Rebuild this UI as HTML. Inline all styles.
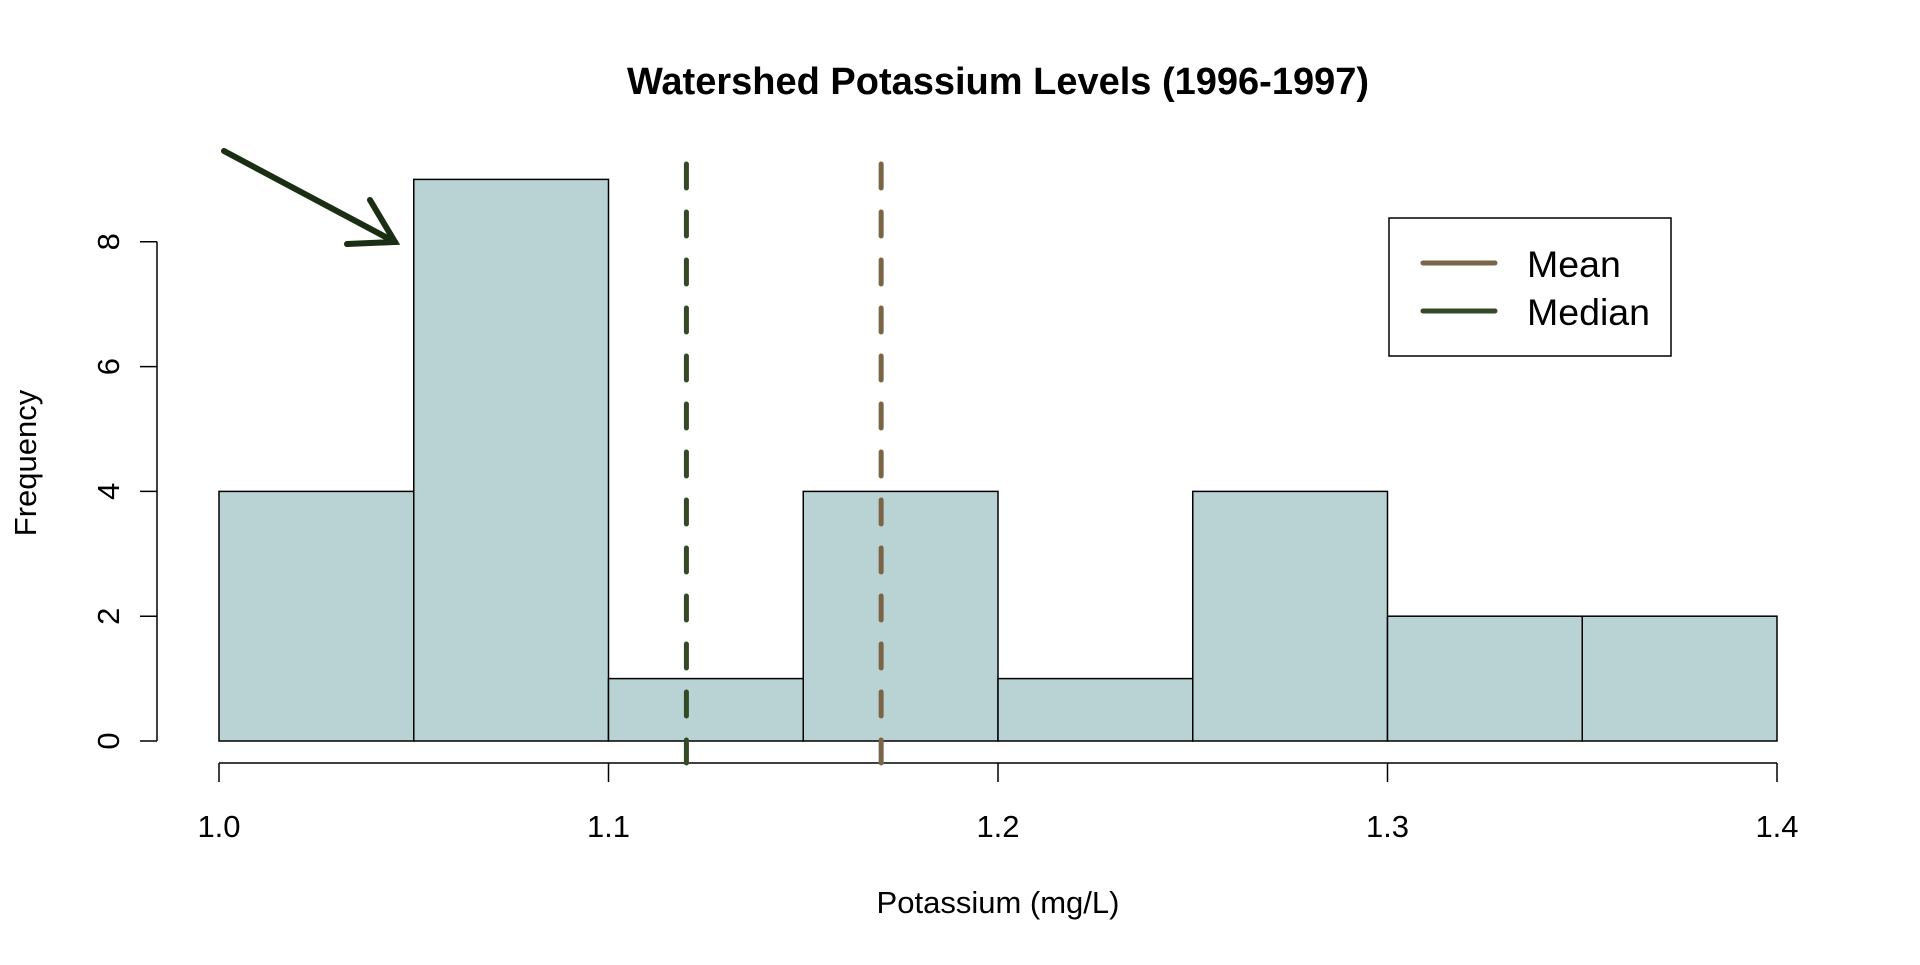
<!DOCTYPE html>
<html><head><meta charset="utf-8"><style>
body{margin:0;background:#fff}
svg text{font-family:"Liberation Sans",sans-serif}
</style></head><body>
<svg id="chart" width="1920" height="960" xmlns="http://www.w3.org/2000/svg">
<text x="998" y="94" text-anchor="middle" font-size="38" font-weight="bold">Watershed Potassium Levels (1996-1997)</text>
<g id="bars"></g>
<g id="yaxis"></g>
<g id="xaxis"></g>
<g id="vlines"></g>
<text transform="translate(36,463) rotate(-90)" text-anchor="middle" font-size="31">Frequency</text>
<text x="998" y="913" text-anchor="middle" font-size="31">Potassium (mg/L)</text>
<g stroke="#1a2e14" stroke-width="6" stroke-linecap="round" fill="none">
<line x1="224" y1="151" x2="395" y2="242"/>
<polyline points="370,200 395,242 347,244"/>
</g>
<g>
<rect x="1389" y="218" width="282" height="138" fill="#fff" stroke="#000" stroke-width="1.5"/>
<line x1="1423" y1="263" x2="1495" y2="263" stroke="#7a6549" stroke-width="5" stroke-linecap="round"/>
<line x1="1423" y1="311" x2="1495" y2="311" stroke="#344a27" stroke-width="5" stroke-linecap="round"/>
<text x="1527" y="277" font-size="37.5">Mean</text>
<text x="1527" y="325" font-size="37.5">Median</text>
</g>
</svg>
<script>
const binStarts=[1.0,1.05,1.1,1.15,1.2,1.25,1.3,1.35];
const binWidth=0.05;
const counts=[4,9,1,4,1,4,2,2];
const yTicks=[0,2,4,6,8];
const xTicks=[1.0,1.1,1.2,1.3,1.4];
const xTickLabels=["1.0","1.1","1.2","1.3","1.4"];
const meanVal=1.17;
const medianVal=1.12;
const NS="http://www.w3.org/2000/svg";
const X=v=>219+(v-1.0)/0.4*1558;
const Y=v=>741-v*62.4;
function mk(t,a,p){const e=document.createElementNS(NS,t);for(const k in a)e.setAttribute(k,a[k]);document.getElementById(p).appendChild(e);return e;}
binStarts.forEach((s,i)=>{
 const r=mk('rect',{x:X(s),y:Y(counts[i]),width:X(s+binWidth)-X(s),height:Y(0)-Y(counts[i]),fill:'#b9d3d4',stroke:'#000','stroke-width':1.5},'bars');
 
 
});
mk('line',{x1:157,y1:Y(0),x2:157,y2:Y(8),stroke:'#000','stroke-width':1.5},'yaxis');
yTicks.forEach(v=>{
 mk('line',{x1:140,y1:Y(v),x2:157,y2:Y(v),stroke:'#000','stroke-width':1.5},'yaxis');
 const t=mk('text',{transform:`translate(119,${Y(v)}) rotate(-90)`,'text-anchor':'middle','font-size':31},'yaxis');
 t.textContent=v;
 
 
});
mk('line',{x1:X(1.0),y1:763,x2:X(1.4),y2:763,stroke:'#000','stroke-width':1.5},'xaxis');
xTicks.forEach((v,i)=>{
 mk('line',{x1:X(v),y1:763,x2:X(v),y2:782,stroke:'#000','stroke-width':1.5},'xaxis');
 const t=mk('text',{x:X(v),y:837,'text-anchor':'middle','font-size':31},'xaxis');
 t.textContent=xTickLabels[i];
 
 
});
[[medianVal,'#344a27','median-line'],[meanVal,'#7a6549','mean-line']].forEach(([v,c,n])=>{
 const l=mk('line',{x1:X(v),y1:164,x2:X(v),y2:763,stroke:c,'stroke-width':5,'stroke-dasharray':'24 24','stroke-linecap':'round'},'vlines');
 
 
});
</script>
</body></html>
